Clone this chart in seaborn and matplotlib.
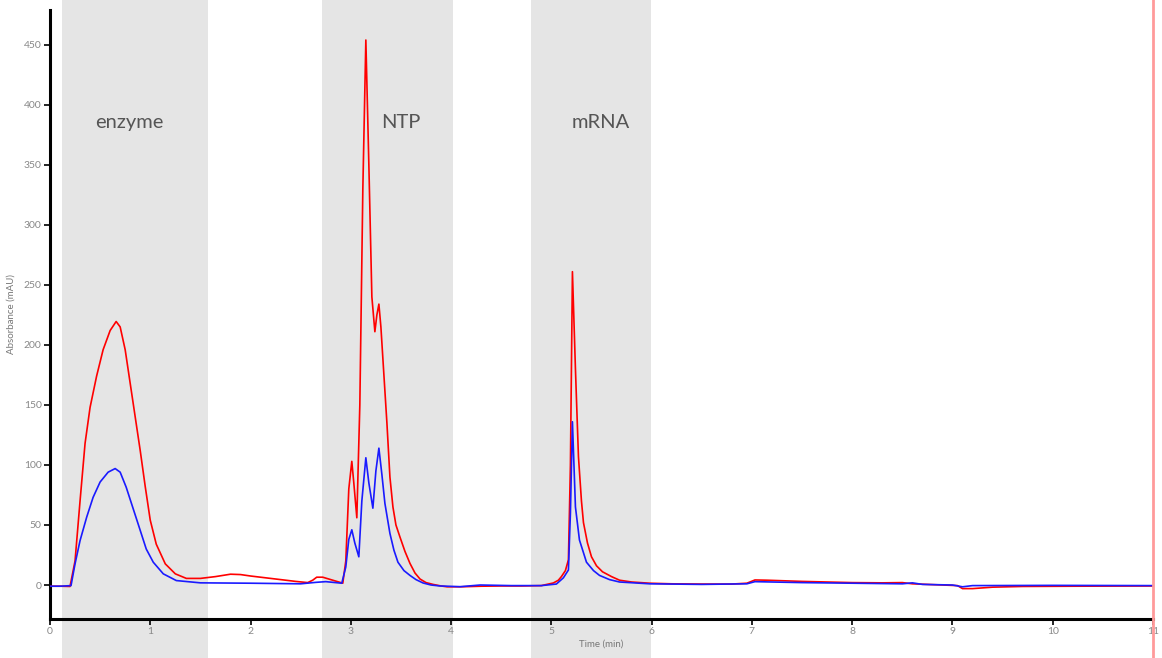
import seaborn as sns
import matplotlib.pyplot as plt
import pandas as pd

# red trace (time in min, absorbance in mAU)
red_t = [0, 0.1, 0.2, 0.25, 0.3, 0.35, 0.4, 0.465, 0.53, 0.6, 0.66, 0.7, 0.75, 0.8, 0.85,
         0.9, 0.95, 1.0, 1.06, 1.15, 1.25, 1.36, 1.5, 1.65, 1.8, 1.9, 2.0, 2.15, 2.3, 2.45,
         2.57, 2.62, 2.66, 2.72, 2.8, 2.88, 2.92, 2.95, 2.98, 3.01, 3.03, 3.06, 3.09, 3.12,
         3.15, 3.18, 3.21, 3.24, 3.26, 3.28, 3.3, 3.33, 3.36, 3.39, 3.42, 3.45, 3.49, 3.54,
         3.59, 3.64, 3.69, 3.75, 3.82, 3.9, 3.96, 4.1, 4.3, 4.5, 4.7, 4.9, 5.02, 5.07, 5.1,
         5.14, 5.17, 5.19, 5.21, 5.24, 5.27, 5.3, 5.32, 5.36, 5.4, 5.45, 5.51, 5.6, 5.68, 5.8,
         5.98, 6.2, 6.5, 6.8, 6.95, 7.03, 7.15, 7.5, 8.0, 8.3, 8.5, 8.6, 8.9, 9.05, 9.1, 9.2,
         9.4, 9.7, 10.2, 11.0]
red_y = [-1, -1, -1.2, 20, 70, 118, 148, 174, 196, 212, 219.5, 215, 196, 168, 140,
         112, 82, 54, 34, 17.6, 9.3, 5.5, 5.5, 7, 9, 8.7, 7.5, 6, 4.5, 3,
         2, 4, 6.5, 6.5, 4.5, 2.5, 1.5, 20, 80, 103, 85, 56, 150, 330,
         454, 350, 240, 211, 225, 234, 215, 175, 135, 90, 65, 50, 40, 28,
         18, 10, 5, 2, 0.5, -0.8, -1.5, -1.5, -1, -0.8, -0.8, -0.5, 1.7, 4, 7,
         12, 21, 100, 261, 180, 107, 70, 52, 35, 23.5, 16, 11, 7, 4, 2.5,
         1.5, 1, 0.8, 0.8, 1.5, 4.2, 4, 3, 2, 1.8, 2, 1, 0, -0.5, -3, -3,
         -1.8, -1.2, -1, -0.8]

# blue trace
blue_t = [0, 0.1, 0.21, 0.25, 0.3, 0.366, 0.43, 0.5, 0.58, 0.65, 0.7, 0.76, 0.83, 0.9, 0.96,
          1.03, 1.13, 1.26, 1.5, 2.0, 2.5, 2.65, 2.75, 2.91, 2.95, 2.98, 3.01, 3.04, 3.08,
          3.11, 3.15, 3.18, 3.22, 3.25, 3.28, 3.31, 3.34, 3.39, 3.43, 3.47, 3.53, 3.59, 3.65,
          3.72, 3.8, 3.89, 4.09, 4.29, 4.6, 4.9, 5.05, 5.12, 5.17, 5.19, 5.21, 5.24, 5.28,
          5.35, 5.42, 5.48, 5.58, 5.68, 5.98, 6.5, 6.95, 7.03, 7.5, 8.0, 8.5, 8.6, 8.7, 9.0,
          9.1, 9.2, 10.0, 11.0]
blue_y = [-1, -1, -0.5, 17.6, 37, 56.5, 73, 85.8, 94, 97, 94, 81.5, 63.5, 45.5, 30,
          19, 9.3, 3.7, 1.8, 1.5, 1, 2.2, 2.8, 1.5, 15, 38, 46, 35, 23.5,
          70, 106, 85, 64, 95, 114, 92, 68, 43, 29, 19, 12, 8, 4.5,
          1.7, 0, -0.8, -1.4, 0, -0.5, -0.5, 0.8, 6, 12.5, 60, 136, 65, 37.5,
          19, 12, 8, 4.5, 2.5, 1, 0.5, 1, 2.8, 2, 1.5, 1, 1.8, 0.5, 0,
          -1.5, -0.5, -0.3, -0.5]

# fractions
regions = ['enzyme', 'NTP', 'mRNA']
region_start = [0.12, 2.71, 4.8]
region_end = [1.575, 4.02, 5.99]
label_x = [0.79, 3.5, 5.49]

red = pd.DataFrame({'time': red_t, 'abs': red_y})
blue = pd.DataFrame({'time': blue_t, 'abs': blue_y})

sns.set_theme(style="white")
plt.rcParams['font.family'] = ['Lato', 'DejaVu Sans']

fig = plt.figure(figsize=(11.62, 6.58), dpi=100)
ax = fig.add_axes([0.043, 0.0593, 0.9493, 0.9255])

# grey bands run over the whole figure height
for s, e in zip(region_start, region_end):
    ax.axvspan(s, e, ymin=-0.07, ymax=1.03, color='#e5e5e5', lw=0, clip_on=False, zorder=0)

for name, x in zip(regions, label_x):
    ax.text(x, 385, name, ha='center', va='center', fontsize=14.5, color='#555555')

sns.lineplot(data=red, x='time', y='abs', color='#ff0000', lw=1.2, errorbar=None, ax=ax, zorder=3)
sns.lineplot(data=blue, x='time', y='abs', color='#1a1aff', lw=1.2, errorbar=None, ax=ax, zorder=4)

ax.axvline(11, ymin=-0.07, ymax=1.03, color='#ff9a9a', lw=2, clip_on=False, zorder=5)

ax.set_xlim(0, 11)
ax.set_ylim(-28.3, 479)
ax.set_xticks(range(0, 12))
ax.set_yticks(range(0, 451, 50))

for side in ['top', 'right']:
    ax.spines[side].set_visible(False)
for side in ['left', 'bottom']:
    ax.spines[side].set_linewidth(2.2)
    ax.spines[side].set_color('black')

ax.tick_params(axis='both', which='major', direction='out', length=4, width=1.2,
               color='black', labelcolor='#888888', labelsize=7.5, pad=2,
               left=True, bottom=True)

ax.set_xlabel('Time (min)', fontsize=7, color='#777777', labelpad=2)
ax.set_ylabel('Absorbance (mAU)', fontsize=7, color='#777777', labelpad=6)
ax.patch.set_alpha(0)

plt.savefig('out.png', dpi=100)
